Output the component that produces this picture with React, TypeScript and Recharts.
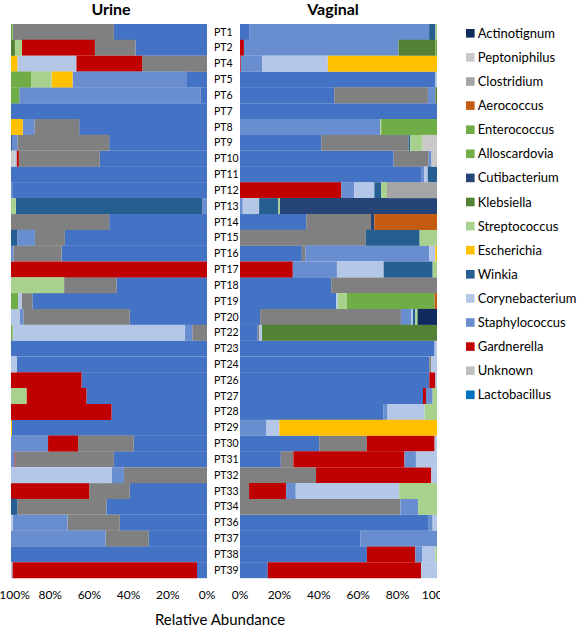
import React from 'react';
import { BarChart, Bar, XAxis, YAxis } from 'recharts';

const patients = ['PT1','PT2','PT4','PT5','PT6','PT7','PT8','PT9','PT10','PT11','PT12','PT13','PT14','PT15','PT16','PT17','PT18','PT19','PT20','PT22','PT23','PT24','PT26','PT27','PT28','PT29','PT30','PT31','PT32','PT33','PT34','PT36','PT37','PT38','PT39'];

// Stack order (first = nearest 0%)
const genera = ['Lactobacillus','Unknown','Gardnerella','Staphylococcus','Corynebacterium','Winkia','Escherichia','Streptococcus','Klebsiella','Cutibacterium','Alloscardovia','Enterococcus','Aerococcus','Clostridium','Peptoniphilus','Actinotignum'];

const barColors = ['#4472C4','#808080','#C00000','#698ED0','#B4C7E7','#255E91','#FFC000','#A9D18E','#548235','#264478','#70AD47','#70AD47','#C55A11','#A5A5A5','#C9C9C9','#0F2B5E'];
const legendColors = ['#0070C0','#BFBFBF','#C00000','#698ED0','#B4C7E7','#255E91','#FFC000','#A9D18E','#548235','#264478','#70AD47','#70AD47','#C55A11','#A5A5A5','#C9C9C9','#0F2B5E'];

const ticks = [0, 20, 40, 60, 80, 100];

// ---------- Urine (%), order = patients ----------
const U_Lactobacillus = [47.5,36.5,0,10.2,3.4, 100,65.2,49.9,54.7,100, 99.4,0,49.9,72.5,74.2, 0,46.2,89.1,39.4,0, 100,97.1,64,61.5,48.7, 99.5,37.4,47.5,0,39.4, 51.3,44.5,29.7,100,5.1];
const U_Unknown = [51.7,20.7,33.1,0,0, 0,22.9,46.9,41.3,0, 0,0,50.1,15.3,24.6, 0,26.7,5.5,54.3,7.5, 0,0,0,0,0, 0,28.4,50.4,42.4,20.7, 45.5,26.7,22.1,0,0];
const U_Gardnerella = [0,37.2,33.6,0,0, 0,0,0,1.2,0, 0,0,0,0,0, 100,0,0,0,0, 0,0,36,30.6,51.3, 0,15.3,0.4,0,39.9, 0,0,0,0,94.2];
const U_Staphylococcus = [0,0,0,58.4,92.4, 0,5.9,2.7,0,0, 0.6,2.4,0,9.0,1.2, 0,0,0,1.7,3.9, 0,0,0,0,0, 0,18.9,1.7,6.3,0, 0,27.9,48.2,0,0];
const U_Corynebacterium = [0,0,30.1,0,0, 0,0,0,1.0,0, 0,0,0,0,0, 0,0,1.8,4.6,87.8, 0,2.9,0,0,0, 0,0,0,51.3,0, 0,0.9,0,0,0.7];
const U_Winkia = [0,0,0,0,0, 0,0,0.5,0,0, 0,95.2,0,3.2,0, 0,0,0,0,0, 0,0,0,0,0, 0,0,0,0,0, 3.2,0,0,0,0];
const U_Escherichia = [0,0,3.2,10.7,0, 0,6.0,0,0,0, 0,0,0,0,0, 0,0,0,0,0, 0,0,0,0,0, 0.5,0,0,0,0, 0,0,0,0,0];
const U_Streptococcus = [0,3.6,0,10.5,0, 0,0,0,0,0, 0,2.4,0,0,0, 0,27.1,0,0,0, 0,0,0,7.9,0, 0,0,0,0,0, 0,0,0,0,0];
const U_Klebsiella = [0,2.0,0,0,0, 0,0,0,0,0, 0,0,0,0,0, 0,0,0,0,0, 0,0,0,0,0, 0,0,0,0,0, 0,0,0,0,0];
const U_Cutibacterium = [0,0,0,0,0, 0,0,0,0,0, 0,0,0,0,0, 0,0,0,0,0, 0,0,0,0,0, 0,0,0,0,0, 0,0,0,0,0];
const U_Alloscardovia = [0.8,0,0,0,0, 0,0,0,0,0, 0,0,0,0,0, 0,0,0,0,0.8, 0,0,0,0,0, 0,0,0,0,0, 0,0,0,0,0];
const U_Enterococcus = [0,0,0,10.2,4.2, 0,0,0,0,0, 0,0,0,0,0, 0,0,3.6,0,0, 0,0,0,0,0, 0,0,0,0,0, 0,0,0,0,0];
const U_Aerococcus = [0,0,0,0,0, 0,0,0,0,0, 0,0,0,0,0, 0,0,0,0,0, 0,0,0,0,0, 0,0,0,0,0, 0,0,0,0,0];
const U_Clostridium = [0,0,0,0,0, 0,0,0,0,0, 0,0,0,0,0, 0,0,0,0,0, 0,0,0,0,0, 0,0,0,0,0, 0,0,0,0,0];
const U_Peptoniphilus = [0,0,0,0,0, 0,0,0,1.8,0, 0,0,0,0,0, 0,0,0,0,0, 0,0,0,0,0, 0,0,0,0,0, 0,0,0,0,0];
const U_Actinotignum = [0,0,0,0,0, 0,0,0,0,0, 0,0,0,0,0, 0,0,0,0,0, 0,0,0,0,0, 0,0,0,0,0, 0,0,0,0,0];

// ---------- Vaginal (%), order = patients ----------
const V_Lactobacillus = [4.6,0,0,99.2,47.8, 100,0,41.2,78,91.9, 0,0,33.6,0,31.4, 0,46.3,48.8,10.2,9.0, 98.8,96.1,96.1,92.9,72.9, 0,40.2,20.7,0,0, 0,95.8,61,64.4,14.1];
const V_Unknown = [0,0,0,0,47.6, 0,0,44.4,17.8,0, 0,0,32.9,63.9,1.7, 0,53.7,0,71.5,0.8, 0,1.0,0,0,0, 0,24.2,6.4,38.6,4.6, 81.4,0,0,0,0];
const V_Gardnerella = [0,2.0,0.4,0,0, 0,0,0,0,0, 51.4,0,0,0,0, 26.8,0,0,0,0, 0,0,3.1,1.5,0, 0,34.4,56.4,58.5,18.8, 0,0,0,24.6,77.8];
const V_Staphylococcus = [91.4,78.5,10.8,0,3.8, 0,71.2,0,1.4,1.7, 6.6,1.4,0,0,63.0, 22.4,0,0,5.3,0, 0,0,0,3.4,2.0, 13.2,0,5.8,0,4.9, 9.0,2.0,39,3.4,0];
const V_Corynebacterium = [0,0,33.4,0.8,0, 0,0,0,0,1.7, 10.2,8.3,0,0,3.1, 23.7,0,0.8,0.8,1.4, 1.2,2.9,0.8,0,18.8, 6.8,1.2,10.7,2.9,52.5, 0,2.2,0,6.8,8.1];
const V_Winkia = [3.2,0,0,0,0, 0,0,0.8,0,4.7, 3.4,9.8,0,27.3,0, 24.9,0,0,1.2,0, 0,0,0,0,0, 0,0,0,0,0, 0,0,0,0,0];
const V_Escherichia = [0,0,55.4,0,0, 0,0,0,0,0, 0,0,0,0,0.8, 0,0,0,0,0, 0,0,0,0,0, 80,0,0,0,0, 0,0,0,0,0];
const V_Streptococcus = [0.8,0,0,0,0, 0,0.5,6.3,0,0, 3.0,0.8,0,8.8,0, 2.2,0,4.6,0.8,0, 0,0,0,2.2,6.3, 0,0,0,0,19.2, 9.6,0,0,0.8,0];
const V_Klebsiella = [0,18.7,0,0,0.8, 0,0,0,0,0, 0,0,0,0,0, 0,0,0,0,88.8, 0,0,0,0,0, 0,0,0,0,0, 0,0,0,0,0];
const V_Cutibacterium = [0,0,0,0,0, 0,0,0,0,0, 0,79.7,1.7,0,0, 0,0,0,0,0, 0,0,0,0,0, 0,0,0,0,0, 0,0,0,0,0];
const V_Alloscardovia = [0,0.8,0,0,0, 0,0,0,0,0, 0,0,0,0,0, 0,0,0,0.4,0, 0,0,0,0,0, 0,0,0,0,0, 0,0,0,0,0];
const V_Enterococcus = [0,0,0,0,0, 0,28.3,0,0,0, 0,0,0,0,0, 0,0,44.6,0,0, 0,0,0,0,0, 0,0,0,0,0, 0,0,0,0,0];
const V_Aerococcus = [0,0,0,0,0, 0,0,0,0,0, 0,0,31.8,0,0, 0,0,1.2,0,0, 0,0,0,0,0, 0,0,0,0,0, 0,0,0,0,0];
const V_Clostridium = [0,0,0,0,0, 0,0,0,0,0, 25.4,0,0,0,0, 0,0,0,0,0, 0,0,0,0,0, 0,0,0,0,0, 0,0,0,0,0];
const V_Peptoniphilus = [0,0,0,0,0, 0,0,7.3,2.8,0, 0,0,0,0,0, 0,0,0,0,0, 0,0,0,0,0, 0,0,0,0,0, 0,0,0,0,0];
const V_Actinotignum = [0,0,0,0,0, 0,0,0,0,0, 0,0,0,0,0, 0,0,0,9.8,0, 0,0,0,0,0, 0,0,0,0,0, 0,0,0,0,0];

const urineSeries = [U_Lactobacillus,U_Unknown,U_Gardnerella,U_Staphylococcus,U_Corynebacterium,U_Winkia,U_Escherichia,U_Streptococcus,U_Klebsiella,U_Cutibacterium,U_Alloscardovia,U_Enterococcus,U_Aerococcus,U_Clostridium,U_Peptoniphilus,U_Actinotignum];
const vaginalSeries = [V_Lactobacillus,V_Unknown,V_Gardnerella,V_Staphylococcus,V_Corynebacterium,V_Winkia,V_Escherichia,V_Streptococcus,V_Klebsiella,V_Cutibacterium,V_Alloscardovia,V_Enterococcus,V_Aerococcus,V_Clostridium,V_Peptoniphilus,V_Actinotignum];

const buildRows = (series: number[][]) =>
  patients.map((name, i) => {
    const row: Record<string, any> = { name };
    genera.forEach((g, k) => { row[g] = series[k][i]; });
    return row;
  });

const urineRows = buildRows(urineSeries);
const vaginalRows = buildRows(vaginalSeries);

const FONT = 'Lato, "Open Sans", sans-serif';

const PTick = (props: any) => {
  const { x, y, payload } = props;
  return (
    <text x={x - 26} y={y} dy="0.35em" textAnchor="start" fontSize={10.5} fill="#000" fontFamily={FONT}>
      {payload.value}
    </text>
  );
};

const XTick = (props: any) => {
  const { x, y, payload } = props;
  return (
    <text x={Math.max(x, 14.5)} y={y} dy="0.71em" textAnchor="middle" fontSize={12} fill="#000" fontFamily={FONT}>
      {`${payload.value}%`}
    </text>
  );
};

const bars = () =>
  genera.map((g, k) => (
    <Bar key={g} dataKey={g} stackId="a" fill={barColors[k]} isAnimationActive={false} />
  ));

export default function App() {
  const legendItems = [...genera].reverse();
  const legendCols = [...legendColors].reverse();
  return (
    <div style={{ position: 'absolute', left: 0, top: 0, width: 584, height: 627, background: '#fff', fontFamily: FONT }}>
      <div style={{ position: 'absolute', left: 0, top: 0, width: 222, textAlign: 'center', fontWeight: 700, fontSize: 16, lineHeight: '17px' }}>Urine</div>
      <div style={{ position: 'absolute', left: 240, top: 0, width: 186, textAlign: 'center', fontWeight: 700, fontSize: 16, lineHeight: '17px' }}>Vaginal</div>

      <div style={{ position: 'absolute', left: 0, top: 0 }}>
        <BarChart width={222} height={627} data={urineRows} layout="vertical" barCategoryGap={0}
          margin={{ top: 24, right: 15, left: 11, bottom: 19 }}>
          <XAxis type="number" domain={[0, 100]} ticks={ticks} reversed interval={0}
            axisLine={false} tickLine={false} tickSize={0} tickMargin={12} height={30}
            tick={<XTick />} allowDataOverflow />
          <YAxis type="category" dataKey="name" hide />
          {bars()}
        </BarChart>
      </div>

      <div style={{ position: 'absolute', left: 207, top: 0 }}>
        <BarChart width={233} height={627} data={vaginalRows} layout="vertical" barCategoryGap={0}
          margin={{ top: 24, right: 3, left: 0, bottom: 19 }}>
          <XAxis type="number" domain={[0, 100]} ticks={ticks} interval={0}
            axisLine={false} tickLine={false} tickSize={0} tickMargin={12} height={30}
            tick={<XTick />} allowDataOverflow />
          <YAxis type="category" dataKey="name" width={33} axisLine={false} tickLine={false}
            tickSize={0} tickMargin={0} interval={0} tick={<PTick />} />
          {bars()}
        </BarChart>
      </div>

      <div style={{ position: 'absolute', left: 0, top: 613, width: 440, textAlign: 'center', fontSize: 15, lineHeight: '13px' }}>
        Relative Abundance
      </div>

      <svg style={{ position: 'absolute', left: 440, top: 0 }} width={144} height={420}>
        {legendItems.map((g, i) => {
          const cy = 33.3 + i * 24.1;
          return (
            <g key={g}>
              <rect x={26} y={cy - 4.3} width={8.6} height={8.6} fill={legendCols[i]} />
              <text x={37.7} y={cy} dy="0.35em" fontSize={13} fontFamily={FONT} fill="#000">{g}</text>
            </g>
          );
        })}
      </svg>
    </div>
  );
}
